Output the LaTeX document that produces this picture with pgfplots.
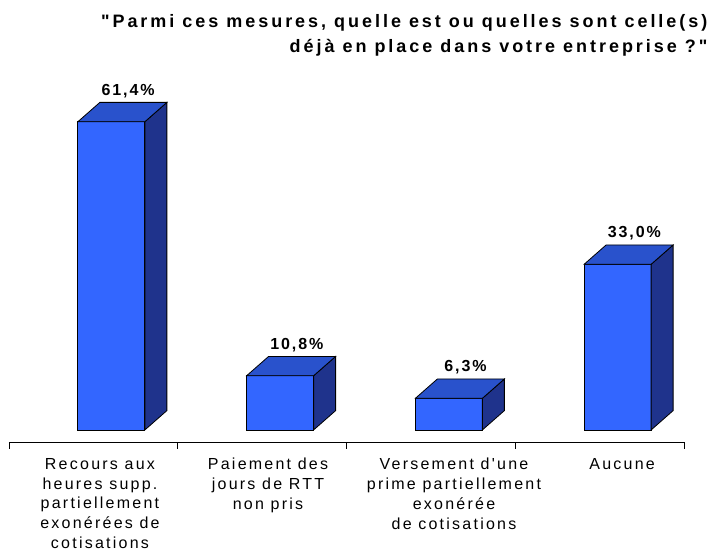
\documentclass[border=0pt]{standalone}
\usepackage{pgfplots}
\usepackage{pgfplotstable}
\pgfplotsset{compat=1.18}
\usepackage{fontspec}
\setmainfont{Liberation Sans}
\newfontfamily\spaced[LetterSpace=14]{Liberation Sans}
\newfontfamily\spacedB[LetterSpace=12]{Liberation Sans Bold}
\newfontfamily\spacedT[LetterSpace=16.5]{Liberation Sans Bold}
\definecolor{frontc}{RGB}{51,102,255}
\definecolor{topc}{RGB}{41,82,204}
\definecolor{sidec}{RGB}{31,51,140}

\pgfplotstableread{
x v lab
0 61.4 {61,4\%}
1 10.8 {10,8\%}
2 6.3 {6,3\%}
3 33.0 {33,0\%}
}\data

% 3D box top + side faces, drawn relative to the bar-top point
\pgfdeclareplotmark{box3d}{%
  \pgfmathsetlengthmacro\hh{\barh*3.765pt}%
  \pgfsetlinewidth{0.6pt}%
  \pgfsetstrokecolor{black}%
  % side face
  \pgfpathmoveto{\pgfqpoint{38.625pt}{0pt}}%
  \pgfpathlineto{\pgfqpoint{55.125pt}{14.5pt}}%
  \pgfpathlineto{\pgfpoint{55.125pt}{14.5pt-\hh}}%
  \pgfpathlineto{\pgfpoint{38.625pt}{-\hh}}%
  \pgfpathclose
  \pgfsetfillcolor{sidec}\pgfusepath{fill,stroke}%
  % top face
  \pgfpathmoveto{\pgfqpoint{-11.625pt}{0pt}}%
  \pgfpathlineto{\pgfqpoint{38.625pt}{0pt}}%
  \pgfpathlineto{\pgfqpoint{55.125pt}{14.5pt}}%
  \pgfpathlineto{\pgfqpoint{4.875pt}{14.5pt}}%
  \pgfpathclose
  \pgfsetfillcolor{topc}\pgfusepath{fill,stroke}%
}

\begin{document}
\begin{tikzpicture}
\begin{axis}[
  x=126.5625pt, y=3.765pt,
  xmin=-0.5, xmax=3.5, ymin=-2.4, ymax=70,
  hide y axis,
  axis x line*=bottom,
  xtick={-0.5,0.5,1.5,2.5,3.5},
  xticklabels={},
  tick align=outside,
  major tick length=5.25pt,
  x axis line style={line width=0.6pt, black},
  tick style={line width=0.6pt, black},
  clip=false,
]
\coordinate (o) at (axis cs:-0.5,-2.4);
% front faces
\addplot[ybar, bar width=50.25pt, bar shift=13.5pt, fill=frontc, draw=black, line width=0.6pt]
  table[x=x, y=v] {\data};
% top and side faces
\addplot[only marks, mark=box3d, visualization depends on={\thisrow{v} \as \barh}]
  table[x=x, y=v] {\data};
% value labels
\addplot[draw=none, mark=none, nodes near coords, point meta=explicit symbolic,
  every node near coord/.append style={font=\fontsize{12}{13}\selectfont\spacedB, anchor=base, xshift=26pt, yshift=20pt, inner sep=0pt, text=black}]
  table[x=x, y=v, meta=lab] {\data};
% category labels
\begin{scope}[every node/.style={anchor=north, align=center, inner sep=0pt, yshift=-12pt, font=\fontsize{12}{14.8}\selectfont\spaced}]
\node at (axis cs:0.039,-2.4) {Recours aux\\heures supp.\\partiellement\\exonérées de\\cotisations};
\node at (axis cs:1.035,-2.4) {Paiement des\\jours de RTT\\non pris};
\node at (axis cs:2.137,-2.4) {Versement d'une\\prime partiellement\\exonérée\\de cotisations};
\node at (axis cs:3.133,-2.4) {Aucune};
\end{scope}
\end{axis}
\node[anchor=north east, align=right, inner sep=0pt, font=\fontsize{13.5}{18.75}\selectfont\spacedT]
  at ([xshift=524pt, yshift=320.5pt]o) {"Parmi ces mesures, quelle est ou quelles sont celle(s)\\déjà en place dans votre entreprise ?"};
\pgfresetboundingbox
\path[use as bounding box] (o) ++(-6.75pt,-82.5pt) rectangle ++(537.75pt,414pt);
\end{tikzpicture}
\end{document}
